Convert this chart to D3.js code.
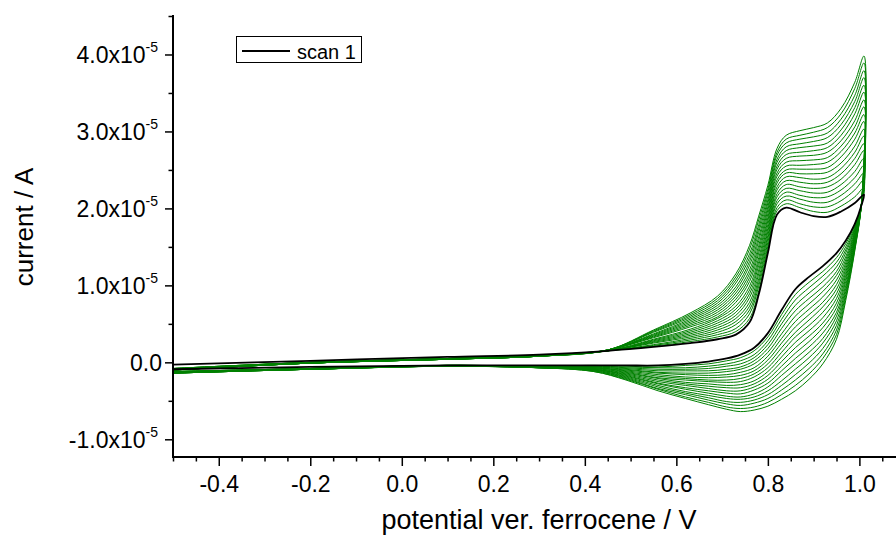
<!DOCTYPE html>
<html>
<head>
<meta charset="utf-8">
<script src="https://cdn.jsdelivr.net/npm/d3@7"></script>
<style>
  html, body { margin: 0; padding: 0; background: #fff; }
  svg { display: block; font-family: "Liberation Sans", Arial, sans-serif; }
</style>
</head>
<body>
<svg id="chart" width="896" height="538"></svg>
<script>
// Potentials (V vs. ferrocene): forward sweep then reverse sweep
const potentialFwd = [-0.5, -0.2, 0.1, 0.3, 0.45, 0.55, 0.63, 0.69, 0.73, 0.76, 0.78, 0.80, 0.82, 0.84, 0.87, 0.90, 0.93, 0.96, 0.99, 1.01];
const potentialRev = [1.005, 0.99, 0.97, 0.95, 0.92, 0.89, 0.86, 0.83, 0.80, 0.77, 0.74, 0.71, 0.67, 0.62, 0.56, 0.49, 0.42, 0.30, 0.10, -0.2, -0.5];

// Currents in units of 1e-5 A (forward values, then reverse values)
const scan01 = [-0.03, 0.02, 0.07, 0.10, 0.15, 0.20, 0.25, 0.30, 0.36, 0.52, 0.88, 1.42, 1.92, 2.01, 1.95, 1.90, 1.89, 1.96, 2.07, 2.18,
  2.05, 1.80, 1.58, 1.42, 1.25, 1.11, 0.95, 0.68, 0.38, 0.19, 0.10, 0.05, 0.01, -0.02, -0.04, -0.04, -0.04, -0.04, -0.04, -0.06, -0.09];
const scan02 = [-0.08, 0.00, 0.05, 0.09, 0.15, 0.21, 0.27, 0.33, 0.40, 0.57, 0.93, 1.47, 1.97, 2.06, 2.01, 1.96, 1.95, 2.03, 2.15, 2.27,
  2.05, 1.78, 1.54, 1.36, 1.18, 1.04, 0.88, 0.62, 0.33, 0.15, 0.06, 0.02, -0.02, -0.04, -0.06, -0.05, -0.04, -0.05, -0.04, -0.08, -0.12];
const scan03 = [-0.08, 0.00, 0.05, 0.09, 0.15, 0.22, 0.29, 0.36, 0.44, 0.63, 0.99, 1.51, 2.01, 2.11, 2.06, 2.02, 2.02, 2.10, 2.24, 2.37,
  2.06, 1.76, 1.50, 1.30, 1.12, 0.97, 0.81, 0.56, 0.28, 0.10, 0.02, -0.02, -0.05, -0.07, -0.07, -0.06, -0.05, -0.05, -0.04, -0.08, -0.12];
const scan04 = [-0.08, 0.00, 0.05, 0.09, 0.15, 0.23, 0.31, 0.39, 0.49, 0.68, 1.04, 1.56, 2.06, 2.16, 2.12, 2.08, 2.08, 2.17, 2.32, 2.46,
  2.06, 1.74, 1.46, 1.24, 1.05, 0.90, 0.74, 0.50, 0.23, 0.06, -0.02, -0.05, -0.08, -0.09, -0.09, -0.07, -0.05, -0.05, -0.04, -0.08, -0.12];
const scan05 = [-0.08, 0.00, 0.05, 0.09, 0.15, 0.25, 0.33, 0.42, 0.53, 0.73, 1.09, 1.61, 2.10, 2.21, 2.17, 2.14, 2.15, 2.24, 2.40, 2.56,
  2.06, 1.73, 1.42, 1.18, 0.98, 0.83, 0.67, 0.44, 0.18, 0.02, -0.06, -0.09, -0.11, -0.11, -0.11, -0.08, -0.06, -0.05, -0.04, -0.08, -0.12];
const scan06 = [-0.09, 0.00, 0.05, 0.09, 0.15, 0.26, 0.35, 0.45, 0.57, 0.78, 1.15, 1.65, 2.15, 2.26, 2.23, 2.20, 2.21, 2.31, 2.48, 2.65,
  2.06, 1.71, 1.37, 1.13, 0.92, 0.76, 0.60, 0.37, 0.13, -0.02, -0.09, -0.12, -0.14, -0.14, -0.13, -0.09, -0.06, -0.05, -0.04, -0.08, -0.12];
const scan07 = [-0.09, 0.00, 0.05, 0.09, 0.15, 0.27, 0.37, 0.48, 0.61, 0.84, 1.20, 1.70, 2.19, 2.31, 2.28, 2.26, 2.28, 2.38, 2.57, 2.75,
  2.07, 1.69, 1.33, 1.07, 0.85, 0.69, 0.53, 0.31, 0.08, -0.07, -0.13, -0.16, -0.17, -0.16, -0.14, -0.10, -0.07, -0.06, -0.04, -0.08, -0.13];
const scan08 = [-0.09, -0.01, 0.05, 0.09, 0.15, 0.28, 0.39, 0.51, 0.65, 0.89, 1.26, 1.74, 2.24, 2.36, 2.34, 2.32, 2.34, 2.45, 2.65, 2.84,
  2.07, 1.67, 1.29, 1.01, 0.78, 0.62, 0.46, 0.25, 0.03, -0.11, -0.17, -0.19, -0.20, -0.19, -0.16, -0.11, -0.07, -0.06, -0.04, -0.08, -0.13];
const scan09 = [-0.09, -0.01, 0.05, 0.09, 0.15, 0.29, 0.41, 0.54, 0.69, 0.94, 1.31, 1.79, 2.28, 2.41, 2.40, 2.38, 2.40, 2.52, 2.73, 2.94,
  2.07, 1.65, 1.25, 0.95, 0.72, 0.55, 0.39, 0.19, -0.02, -0.15, -0.21, -0.23, -0.23, -0.21, -0.18, -0.12, -0.07, -0.06, -0.04, -0.08, -0.13];
const scan10 = [-0.09, -0.01, 0.04, 0.08, 0.15, 0.30, 0.43, 0.57, 0.73, 0.99, 1.36, 1.84, 2.33, 2.46, 2.45, 2.45, 2.47, 2.59, 2.81, 3.03,
  2.07, 1.63, 1.21, 0.89, 0.65, 0.48, 0.33, 0.13, -0.07, -0.19, -0.25, -0.26, -0.25, -0.23, -0.20, -0.13, -0.08, -0.06, -0.04, -0.09, -0.13];
const scan11 = [-0.09, -0.01, 0.04, 0.08, 0.16, 0.32, 0.46, 0.59, 0.78, 1.05, 1.42, 1.88, 2.37, 2.50, 2.51, 2.51, 2.53, 2.67, 2.90, 3.13,
  2.08, 1.62, 1.17, 0.83, 0.58, 0.41, 0.26, 0.07, -0.12, -0.24, -0.29, -0.30, -0.28, -0.26, -0.21, -0.14, -0.08, -0.06, -0.05, -0.09, -0.13];
const scan12 = [-0.10, -0.01, 0.04, 0.08, 0.16, 0.33, 0.48, 0.62, 0.82, 1.10, 1.47, 1.93, 2.42, 2.55, 2.56, 2.57, 2.60, 2.74, 2.98, 3.22,
  2.08, 1.60, 1.13, 0.77, 0.51, 0.34, 0.19, 0.01, -0.17, -0.28, -0.33, -0.33, -0.31, -0.28, -0.23, -0.15, -0.09, -0.06, -0.05, -0.09, -0.13];
const scan13 = [-0.10, -0.01, 0.04, 0.08, 0.16, 0.34, 0.50, 0.65, 0.86, 1.15, 1.52, 1.98, 2.46, 2.60, 2.62, 2.63, 2.66, 2.81, 3.06, 3.32,
  2.08, 1.58, 1.09, 0.71, 0.45, 0.27, 0.12, -0.05, -0.22, -0.32, -0.37, -0.37, -0.34, -0.30, -0.25, -0.16, -0.09, -0.06, -0.05, -0.09, -0.13];
const scan14 = [-0.10, -0.01, 0.04, 0.08, 0.16, 0.35, 0.52, 0.68, 0.90, 1.20, 1.58, 2.02, 2.51, 2.65, 2.68, 2.69, 2.73, 2.88, 3.14, 3.41,
  2.08, 1.56, 1.05, 0.65, 0.38, 0.20, 0.05, -0.11, -0.27, -0.36, -0.41, -0.40, -0.37, -0.33, -0.27, -0.17, -0.09, -0.07, -0.05, -0.09, -0.14];
const scan15 = [-0.10, -0.01, 0.04, 0.08, 0.16, 0.36, 0.54, 0.71, 0.94, 1.26, 1.63, 2.07, 2.55, 2.70, 2.73, 2.75, 2.79, 2.95, 3.23, 3.51,
  2.09, 1.54, 1.00, 0.60, 0.31, 0.13, -0.02, -0.17, -0.32, -0.41, -0.45, -0.44, -0.40, -0.35, -0.28, -0.18, -0.10, -0.07, -0.05, -0.09, -0.14];
const scan16 = [-0.10, -0.01, 0.04, 0.08, 0.16, 0.37, 0.56, 0.74, 0.98, 1.31, 1.69, 2.11, 2.60, 2.75, 2.79, 2.81, 2.85, 3.02, 3.31, 3.60,
  2.09, 1.52, 0.96, 0.54, 0.25, 0.06, -0.09, -0.24, -0.37, -0.45, -0.48, -0.47, -0.43, -0.38, -0.30, -0.19, -0.10, -0.07, -0.05, -0.09, -0.14];
const scan17 = [-0.10, -0.01, 0.04, 0.08, 0.16, 0.39, 0.58, 0.77, 1.03, 1.36, 1.74, 2.16, 2.64, 2.80, 2.84, 2.87, 2.92, 3.09, 3.39, 3.70,
  2.09, 1.51, 0.92, 0.48, 0.18, -0.01, -0.16, -0.30, -0.42, -0.49, -0.52, -0.51, -0.46, -0.40, -0.32, -0.20, -0.11, -0.07, -0.05, -0.09, -0.14];
const scan18 = [-0.10, -0.01, 0.04, 0.08, 0.16, 0.40, 0.60, 0.80, 1.07, 1.41, 1.79, 2.21, 2.69, 2.85, 2.90, 2.93, 2.98, 3.16, 3.47, 3.79,
  2.09, 1.49, 0.88, 0.42, 0.11, -0.08, -0.23, -0.36, -0.47, -0.53, -0.56, -0.54, -0.49, -0.42, -0.34, -0.21, -0.11, -0.07, -0.05, -0.09, -0.14];
const scan19 = [-0.10, -0.01, 0.04, 0.08, 0.16, 0.41, 0.62, 0.83, 1.11, 1.47, 1.85, 2.25, 2.73, 2.90, 2.95, 2.99, 3.05, 3.23, 3.56, 3.89,
  2.10, 1.47, 0.84, 0.36, 0.05, -0.15, -0.30, -0.42, -0.52, -0.58, -0.60, -0.58, -0.52, -0.45, -0.35, -0.22, -0.12, -0.07, -0.05, -0.09, -0.14];
const scan20 = [-0.10, -0.01, 0.04, 0.08, 0.16, 0.42, 0.64, 0.86, 1.15, 1.52, 1.90, 2.30, 2.78, 2.95, 3.01, 3.05, 3.11, 3.30, 3.64, 3.98,
  2.10, 1.45, 0.80, 0.30, -0.02, -0.22, -0.37, -0.48, -0.57, -0.62, -0.64, -0.61, -0.55, -0.47, -0.37, -0.23, -0.12, -0.07, -0.05, -0.09, -0.14];

const greenScans = [scan02, scan03, scan04, scan05, scan06, scan07, scan08, scan09, scan10, scan11,
  scan12, scan13, scan14, scan15, scan16, scan17, scan18, scan19, scan20];

// Axis ticks
const xMajorTicks = [-0.4, -0.2, 0.0, 0.2, 0.4, 0.6, 0.8, 1.0];
const xMinorTicks = [-0.5, -0.45, -0.35, -0.3, -0.25, -0.15, -0.1, -0.05, 0.05, 0.1, 0.15, 0.25, 0.3, 0.35, 0.45, 0.5, 0.55, 0.65, 0.7, 0.75, 0.85, 0.9, 0.95, 1.05];
const yMajorTicks = [-1, 0, 1, 2, 3, 4];
const yMinorTicks = [-0.5, 0.5, 1.5, 2.5, 3.5, 4.5];
const yTickLabels = ["-1.0x10", "0.0", "1.0x10", "2.0x10", "3.0x10", "4.0x10"];

const legendLabel = "scan 1";
const xTitle = "potential ver. ferrocene / V";
const yTitle = "current / A";

// ---------- drawing ----------
const svg = d3.select("#chart");
const x = d3.scaleLinear().domain([-0.5, 1.08]).range([173, 896]);
const y = d3.scaleLinear().domain([-1.23, 4.5]).range([457, 16]);

const potential = potentialFwd.concat(potentialRev);
const toPoints = arr => arr.map((v, i) => [potential[i], v]);
const line = d3.line()
  .x(d => x(d[0]))
  .y(d => y(d[1]))
  .curve(d3.curveCatmullRom.alpha(0.5));

const plot = svg.append("g");
plot.selectAll("path.green")
  .data(greenScans)
  .join("path")
  .attr("class", "green")
  .attr("d", d => line(toPoints(d)))
  .attr("fill", "none")
  .attr("stroke", "#008000")
  .attr("stroke-width", 1);

plot.append("path")
  .attr("d", line(toPoints(scan01)))
  .attr("fill", "none")
  .attr("stroke", "#000")
  .attr("stroke-width", 1.8);

// X axis
const xAxisG = svg.append("g").attr("transform", "translate(0,457)");
xAxisG.call(d3.axisBottom(x).tickValues(xMinorTicks).tickSize(4.5).tickFormat(""))
  .call(g => g.select(".domain").remove());
const xMaj = svg.append("g").attr("transform", "translate(0,457)");
xMaj.call(d3.axisBottom(x).tickValues(xMajorTicks).tickSize(9).tickFormat(d => d.toFixed(1)))
  .call(g => g.select(".domain").remove());
xMaj.selectAll("text")
  .attr("y", 35).attr("dy", null)
  .attr("font-size", 23).attr("font-family", "Liberation Sans, Arial, sans-serif")
  .attr("fill", "#000");
svg.selectAll(".tick line").attr("stroke", "#000").attr("stroke-width", 1.5);
svg.append("line").attr("x1", 172).attr("x2", 896).attr("y1", 457).attr("y2", 457)
  .attr("stroke", "#000").attr("stroke-width", 2);

// Y axis
const yMin = svg.append("g").attr("transform", "translate(173,0)");
yMin.call(d3.axisLeft(y).tickValues(yMinorTicks).tickSize(4.5).tickFormat(""))
  .call(g => g.select(".domain").remove());
const yMaj = svg.append("g").attr("transform", "translate(173,0)");
yMaj.call(d3.axisLeft(y).tickValues(yMajorTicks).tickSize(8).tickFormat(""))
  .call(g => g.select(".domain").remove());
svg.selectAll(".tick line").attr("stroke", "#000").attr("stroke-width", 1.5);
yMaj.selectAll(".tick").each(function(d, i) {
  const t = d3.select(this).append("text")
    .attr("text-anchor", "end")
    .attr("x", d === 0 ? -11 : -15)
    .attr("y", 8)
    .attr("font-size", 23)
    .attr("font-family", "Liberation Sans, Arial, sans-serif")
    .attr("fill", "#000");
  t.append("tspan").text(yTickLabels[i]);
  if (d !== 0) {
    t.append("tspan").attr("dy", -11).attr("font-size", 14).text("-5");
  }
});
svg.append("line").attr("x1", 173).attr("x2", 173).attr("y1", 15).attr("y2", 458)
  .attr("stroke", "#000").attr("stroke-width", 2);

// Titles
svg.append("text")
  .attr("x", 539).attr("y", 529)
  .attr("text-anchor", "middle")
  .attr("font-size", 27)
  .attr("fill", "#000")
  .text(xTitle);
svg.append("text")
  .attr("transform", "translate(33,227) rotate(-90)")
  .attr("text-anchor", "middle")
  .attr("font-size", 26)
  .attr("fill", "#000")
  .text(yTitle);

// Legend
const lg = svg.append("g");
lg.append("rect").attr("x", 236.5).attr("y", 36.5).attr("width", 125).attr("height", 26)
  .attr("fill", "#fff").attr("stroke", "#000").attr("stroke-width", 1);
lg.append("line").attr("x1", 242).attr("x2", 290).attr("y1", 51).attr("y2", 51)
  .attr("stroke", "#000").attr("stroke-width", 2);
lg.append("text").attr("x", 297).attr("y", 58.5)
  .attr("font-size", 20).attr("fill", "#000").text(legendLabel);
</script>
</body>
</html>
